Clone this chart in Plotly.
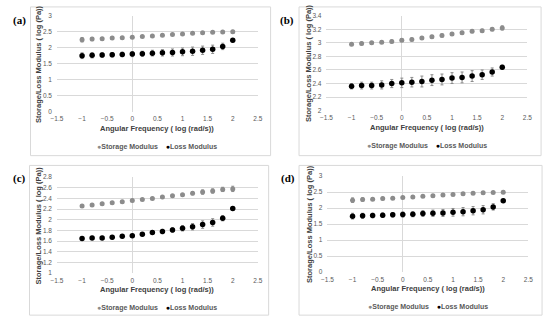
import plotly.graph_objects as go

W, H = 550, 324

freq = [-1.0, -0.8, -0.6, -0.4, -0.2, 0.0, 0.2, 0.4, 0.6, 0.8, 1.0, 1.2, 1.4, 1.6, 1.8, 2.0]

a_storage = [2.25, 2.27, 2.28, 2.30, 2.31, 2.33, 2.35, 2.37, 2.39, 2.41, 2.43, 2.45, 2.47, 2.48, 2.49, 2.50]
a_storage_err = [0.07, 0.05, 0.04, 0.04, 0.03, 0.03, 0.03, 0.03, 0.03, 0.03, 0.03, 0.03, 0.03, 0.03, 0.03, 0.04]
a_loss = [1.75, 1.76, 1.77, 1.78, 1.79, 1.80, 1.81, 1.83, 1.84, 1.85, 1.87, 1.89, 1.92, 1.95, 2.04, 2.23]
a_loss_err = [0.09, 0.08, 0.07, 0.07, 0.07, 0.08, 0.08, 0.09, 0.10, 0.11, 0.12, 0.13, 0.13, 0.13, 0.10, 0.05]

b_storage = [2.98, 2.99, 3.00, 3.01, 3.02, 3.04, 3.05, 3.07, 3.09, 3.11, 3.13, 3.15, 3.17, 3.18, 3.20, 3.22]
b_storage_err = [0.02, 0.02, 0.02, 0.02, 0.02, 0.02, 0.02, 0.02, 0.02, 0.02, 0.02, 0.02, 0.02, 0.02, 0.02, 0.03]
b_loss = [2.36, 2.37, 2.37, 2.38, 2.40, 2.41, 2.42, 2.43, 2.45, 2.46, 2.48, 2.49, 2.51, 2.53, 2.57, 2.64]
b_loss_err = [0.04, 0.05, 0.05, 0.06, 0.06, 0.07, 0.07, 0.08, 0.08, 0.08, 0.08, 0.08, 0.08, 0.07, 0.06, 0.03]

c_storage = [2.26, 2.28, 2.30, 2.32, 2.34, 2.36, 2.38, 2.40, 2.43, 2.45, 2.47, 2.50, 2.52, 2.54, 2.57, 2.58]
c_storage_err = [0.02, 0.02, 0.02, 0.02, 0.02, 0.02, 0.02, 0.02, 0.02, 0.02, 0.02, 0.03, 0.04, 0.04, 0.04, 0.05]
c_loss = [1.65, 1.66, 1.66, 1.67, 1.69, 1.70, 1.73, 1.76, 1.78, 1.81, 1.84, 1.87, 1.91, 1.95, 2.03, 2.21]
c_loss_err = [0.03, 0.03, 0.03, 0.03, 0.03, 0.03, 0.03, 0.03, 0.04, 0.04, 0.05, 0.06, 0.07, 0.07, 0.05, 0.03]

d_storage = [2.25, 2.27, 2.28, 2.30, 2.31, 2.33, 2.35, 2.37, 2.39, 2.41, 2.43, 2.45, 2.47, 2.48, 2.49, 2.50]
d_storage_err = [0.07, 0.05, 0.04, 0.04, 0.03, 0.03, 0.03, 0.03, 0.03, 0.03, 0.03, 0.03, 0.03, 0.03, 0.03, 0.04]
d_loss = [1.75, 1.76, 1.77, 1.78, 1.79, 1.80, 1.81, 1.83, 1.84, 1.85, 1.87, 1.89, 1.92, 1.95, 2.04, 2.23]
d_loss_err = [0.09, 0.08, 0.07, 0.07, 0.07, 0.08, 0.08, 0.09, 0.10, 0.11, 0.12, 0.13, 0.13, 0.13, 0.10, 0.05]

panel_labels = ["(a)", "(b)", "(c)", "(d)"]
y_ranges = [(0, 3, 0.5), (2, 3.4, 0.2), (1, 2.8, 0.2), (0, 3, 0.5)]
x_range = (-1.5, 2.5, 0.5)
x_title = "Angular Frequency ( log (rad/s))"
y_title = "Storage/Loss Modulus ( log (Pa))"
series_names = ["Storage Modulus", "Loss Modulus"]

data = [
    (a_storage, a_storage_err, a_loss, a_loss_err),
    (b_storage, b_storage_err, b_loss, b_loss_err),
    (c_storage, c_storage_err, c_loss, c_loss_err),
    (d_storage, d_storage_err, d_loss, d_loss_err),
]

# layout in pixels: plot area (x0, x1, ytop, ybottom), box (x0, x1, y0, y1), label pos
plots_px = [(52, 257, 12, 110), (327, 532, 12, 109), (52, 257, 177, 275), (328, 533, 176, 274)]
boxes_px = [(25, 270, 3, 155), (299, 546, 3, 155), (24, 268, 165, 318), (299, 547, 165, 318)]
label_px = [(14, 17), (287, 17), (14, 178), (288, 178)]

STORAGE_C = "#8c8c8c"
LOSS_C = "#000000"
ERR_C = "#8c8c8c"
GRID_C = "#d9d9d9"
TICK_C = "#595959"
FONT = "Liberation Sans, Arial, sans-serif"

fig = go.Figure()
shapes = []
annotations = []

for i in range(4):
    s, se, l, le = data[i]
    xa = "x" if i == 0 else f"x{i+1}"
    ya = "y" if i == 0 else f"y{i+1}"
    fig.add_trace(go.Scatter(
        x=freq, y=s, mode="markers", name=series_names[0], showlegend=False,
        marker=dict(color=STORAGE_C, size=5, line=dict(width=0)),
        error_y=dict(type="data", array=se, color=ERR_C, thickness=1, width=1.5),
        xaxis=xa, yaxis=ya))
    fig.add_trace(go.Scatter(
        x=freq, y=l, mode="markers", name=series_names[1], showlegend=False,
        marker=dict(color=LOSS_C, size=5.5, line=dict(width=0)),
        error_y=dict(type="data", array=le, color=ERR_C, thickness=1, width=1.5),
        xaxis=xa, yaxis=ya))

    px0, px1, pyt, pyb = plots_px[i]
    dom_x = [px0 / W, px1 / W]
    dom_y = [1 - pyb / H, 1 - pyt / H]
    y0, y1, dy = y_ranges[i]
    key = "" if i == 0 else str(i + 1)
    fig.update_layout(**{
        f"xaxis{key}": dict(
            domain=dom_x, range=[x_range[0], x_range[1]], dtick=x_range[2], tick0=x_range[0],
            showgrid=False, zeroline=True, zerolinecolor=GRID_C, zerolinewidth=1,
            showline=False, ticks="", anchor=ya,
            tickfont=dict(family=FONT, size=6.5, color=TICK_C), ticklabelstandoff=2,
            fixedrange=True),
        f"yaxis{key}": dict(
            domain=dom_y, range=[y0, y1], dtick=dy, tick0=y0,
            showgrid=True, gridcolor=GRID_C, gridwidth=1, zeroline=False,
            showline=False, ticks="", anchor=xa,
            tickfont=dict(family=FONT, size=6.5, color=TICK_C), ticklabelstandoff=4,
            fixedrange=True),
    })

    bx0, bx1, by0, by1 = boxes_px[i]
    shapes.append(dict(type="rect", xref="paper", yref="paper",
                       x0=bx0 / W, x1=bx1 / W, y0=1 - by1 / H, y1=1 - by0 / H,
                       line=dict(color="#d9d9d9", width=1), fillcolor="rgba(0,0,0,0)"))

    # axis titles
    annotations.append(dict(x=(px0 + px1) / 2 / W, y=1 - (pyb + 17) / H, xref="paper", yref="paper",
                            text=f"<b>{x_title}</b>", showarrow=False,
                            font=dict(family=FONT, size=7.5, color="#404040"),
                            xanchor="center", yanchor="middle"))
    annotations.append(dict(x=(px0 - 19) / W, y=1 - (pyt + pyb) / 2 / H, xref="paper", yref="paper",
                            text=f"<b>{y_title}</b>", showarrow=False, textangle=-90,
                            font=dict(family=FONT, size=7.5, color="#404040"),
                            xanchor="center", yanchor="middle"))
    # legend
    leg_text = (f"<span style='color:{STORAGE_C}'>●</span><b>{series_names[0]}</b>"
                f"&nbsp;&nbsp;&nbsp;&nbsp;<span style='color:{LOSS_C}'>●</span><b>{series_names[1]}</b>")
    annotations.append(dict(x=(px0 + px1) / 2 / W, y=1 - (pyb + 36) / H, xref="paper", yref="paper",
                            text=leg_text, showarrow=False,
                            font=dict(family=FONT, size=7, color="#595959"),
                            xanchor="center", yanchor="middle"))
    # panel label
    lx, ly = label_px[i]
    annotations.append(dict(x=lx / W, y=1 - ly / H, xref="paper", yref="paper",
                            text=f"<b>{panel_labels[i]}</b>", showarrow=False,
                            font=dict(family="Liberation Serif, Times New Roman, serif", size=11, color="#000"),
                            xanchor="center", yanchor="middle"))

fig.update_layout(
    width=W, height=H, margin=dict(l=0, r=0, t=0, b=0),
    paper_bgcolor="white", plot_bgcolor="white",
    showlegend=False, shapes=shapes, annotations=annotations,
)

fig.write_html("out.html", config={"displayModeBar": False},
               post_script="document.body.style.margin='0';document.body.style.overflow='hidden';")
